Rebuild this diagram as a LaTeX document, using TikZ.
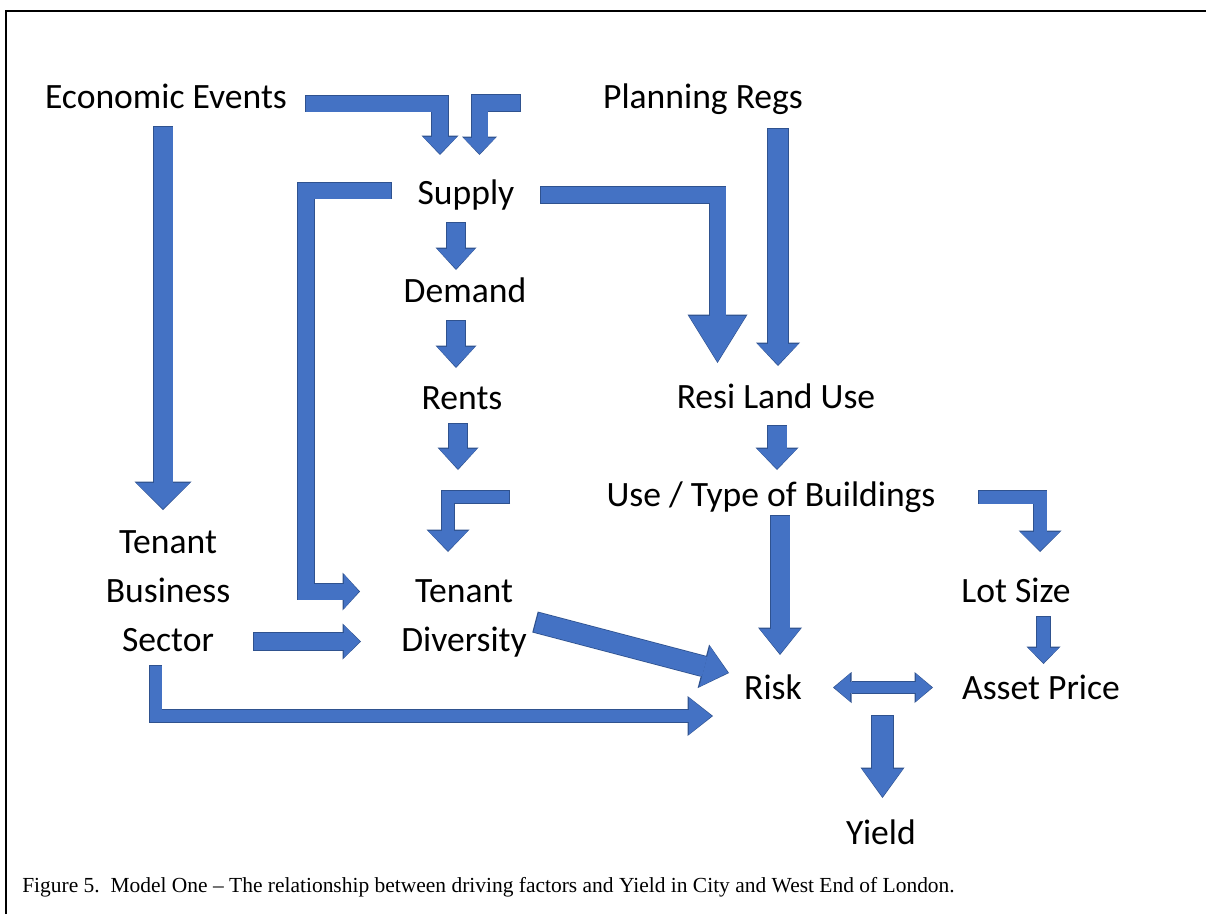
\documentclass[tikz,border=0pt]{standalone}
\usepackage{fontspec}
\setmainfont{Liberation Serif}
\newfontfamily\labelfont{Carlito}
\usetikzlibrary{arrows.meta}

\definecolor{arrowfill}{HTML}{4472C4}
\definecolor{arrowedge}{HTML}{2F528F}

% Block arrow along a path: #1 tips (-> or <->), #2 shaft width,
% #3 head width, #4 head length (all in px), #5 the path.
\newcommand\blockarrow[5]{%
  \pgfmathsetmacro\bsw{#2*0.75}%
  \pgfmathsetmacro\bow{(#2+1.6)*0.75}%
  \pgfmathsetmacro\bhw{#3*0.75}%
  \pgfmathsetmacro\bohw{(#3+3)*0.75}%
  \pgfmathsetmacro\bhl{#4*0.75}%
  \pgfmathsetmacro\bohl{(#4+2.5)*0.75}%
  \draw[arrowedge, line width=\bow pt, line join=miter,
        >={Triangle[width=\bohw pt, length=\bohl pt, line width=0pt]}, #1] #5;
  \draw[arrowfill, line width=\bsw pt, line join=miter,
        shorten <=0.9pt, shorten >=0.9pt,
        >={Triangle[width=\bhw pt, length=\bhl pt, line width=0pt]}, #1] #5;
}

\tikzset{
  lbl/.style={font=\labelfont\fontsize{26.7}{36.4}\selectfont,
              inner sep=0pt, anchor=base, align=center},
  frame/.style={line width=1.7pt, black},
}

\begin{document}
\begin{tikzpicture}[x=0.75pt, y=-0.75pt]
\useasboundingbox (0,0) rectangle (1206,914);

% outer frame (top and left edges)
\draw[frame] (6,914) -- (6,11) -- (1206,11);

% labels (multi-line labels sit on the baseline of their last line)
\node[lbl] (econ)   at (166,108) {Economic Events};
\node[lbl] (plan)   at (703,108) {Planning Regs};
\node[lbl] (supply) at (466,204) {Supply};
\node[lbl] (demand) at (465,302) {Demand};
\node[lbl] (rents)  at (462,409) {Rents};
\node[lbl] (resi)   at (776,408) {Resi Land Use};
\node[lbl] (use)    at (771,506) {Use / Type of Buildings};
\node[lbl] (tbs)    at (168,651) {Tenant\\Business\\Sector};
\node[lbl] (tdiv)   at (464,651) {Tenant\\Diversity};
\node[lbl] (lot)    at (1016,602) {Lot Size};
\node[lbl] (risk)   at (773,699) {Risk};
\node[lbl] (asset)  at (1041,699) {Asset Price};
\node[lbl] (yield)  at (881,844) {Yield};

\node[anchor=base west, inner sep=0pt, font=\fontsize{16.1}{19}\selectfont]
  (caption) at (22,892)
  {Figure 5.\ \ Model One – The relationship between driving factors and Yield in City and West End of London.};

% arrow end points
\coordinate (econ-s)   at (163,126);   \coordinate (econ-e)   at (163,510);
\coordinate (econ-b1)  at (305,103.5); \coordinate (econ-b2)  at (440,103.5); \coordinate (econ-b3) at (440,155);
\coordinate (plan-b1)  at (521,103);   \coordinate (plan-b2)  at (479.5,103); \coordinate (plan-b3) at (479.5,155);
\coordinate (loop-1)   at (392,190.5); \coordinate (loop-2)   at (306,190.5);
\coordinate (loop-3)   at (306,591.5); \coordinate (loop-4)   at (360,591.5);
\coordinate (sd-s)     at (456,222);   \coordinate (sd-e)     at (456,270);
\coordinate (dr-s)     at (456,320);   \coordinate (dr-e)     at (456,368);
\coordinate (rt-s)     at (458,423);   \coordinate (rt-e)     at (458,470);
\coordinate (rd-1)     at (510,497);   \coordinate (rd-2)     at (448,497);   \coordinate (rd-3) at (448,552);
\coordinate (sr-1)     at (540,195);   \coordinate (sr-2)     at (717.5,195); \coordinate (sr-3) at (717.5,363);
\coordinate (pr-s)     at (778,128);   \coordinate (pr-e)     at (778,366);
\coordinate (ru-s)     at (777,425);   \coordinate (ru-e)     at (777,470);
\coordinate (uk-s)     at (780,515);   \coordinate (uk-e)     at (780,655);
\coordinate (ul-1)     at (978,497);   \coordinate (ul-2)     at (1040,497);  \coordinate (ul-3) at (1040,552);
\coordinate (la-s)     at (1043.5,616); \coordinate (la-e)    at (1043.5,664);
\coordinate (ra-s)     at (833,687.5); \coordinate (ra-e)     at (933,687.5);
\coordinate (ry-s)     at (882.5,715); \coordinate (ry-e)     at (882.5,798);
\coordinate (bd-s)     at (253,641.5); \coordinate (bd-e)     at (361,641.5);
\coordinate (dk-s)     at (535,622);   \coordinate (dk-e)     at (729,673);
\coordinate (bk-1)     at (155.5,665); \coordinate (bk-2)     at (155.5,716); \coordinate (bk-3) at (713,716);

% block arrows
\blockarrow{->}{19}{54}{26}{(econ-s) -- (econ-e)}
\blockarrow{->}{16}{34}{17}{(econ-b1) -- (econ-b2) -- (econ-b3)}
\blockarrow{->}{16}{32}{16}{(plan-b1) -- (plan-b2) -- (plan-b3)}
\blockarrow{->}{16}{35}{15}{(loop-1) -- (loop-2) -- (loop-3) -- (loop-4)}
\blockarrow{->}{18}{38}{20}{(sd-s) -- (sd-e)}
\blockarrow{->}{18}{38}{20}{(dr-s) -- (dr-e)}
\blockarrow{->}{18}{38}{20}{(rt-s) -- (rt-e)}
\blockarrow{->}{12}{40}{20}{(rd-1) -- (rd-2) -- (rd-3)}
\blockarrow{->}{16}{57}{46}{(sr-1) -- (sr-2) -- (sr-3)}
\blockarrow{->}{20}{41}{21}{(pr-s) -- (pr-e)}
\blockarrow{->}{19}{40}{20}{(ru-s) -- (ru-e)}
\blockarrow{->}{19}{41}{25}{(uk-s) -- (uk-e)}
\blockarrow{->}{13}{40}{19}{(ul-1) -- (ul-2) -- (ul-3)}
\blockarrow{->}{13}{31}{15}{(la-s) -- (la-e)}
\blockarrow{<->}{11}{28}{16}{(ra-s) -- (ra-e)}
\blockarrow{->}{21}{41}{28}{(ry-s) -- (ry-e)}
\blockarrow{->}{17}{33}{16}{(bd-s) -- (bd-e)}
\blockarrow{->}{20}{42}{24}{(dk-s) -- (dk-e)}
\blockarrow{->}{12}{37}{23}{(bk-1) -- (bk-2) -- (bk-3)}
\end{tikzpicture}
\end{document}
